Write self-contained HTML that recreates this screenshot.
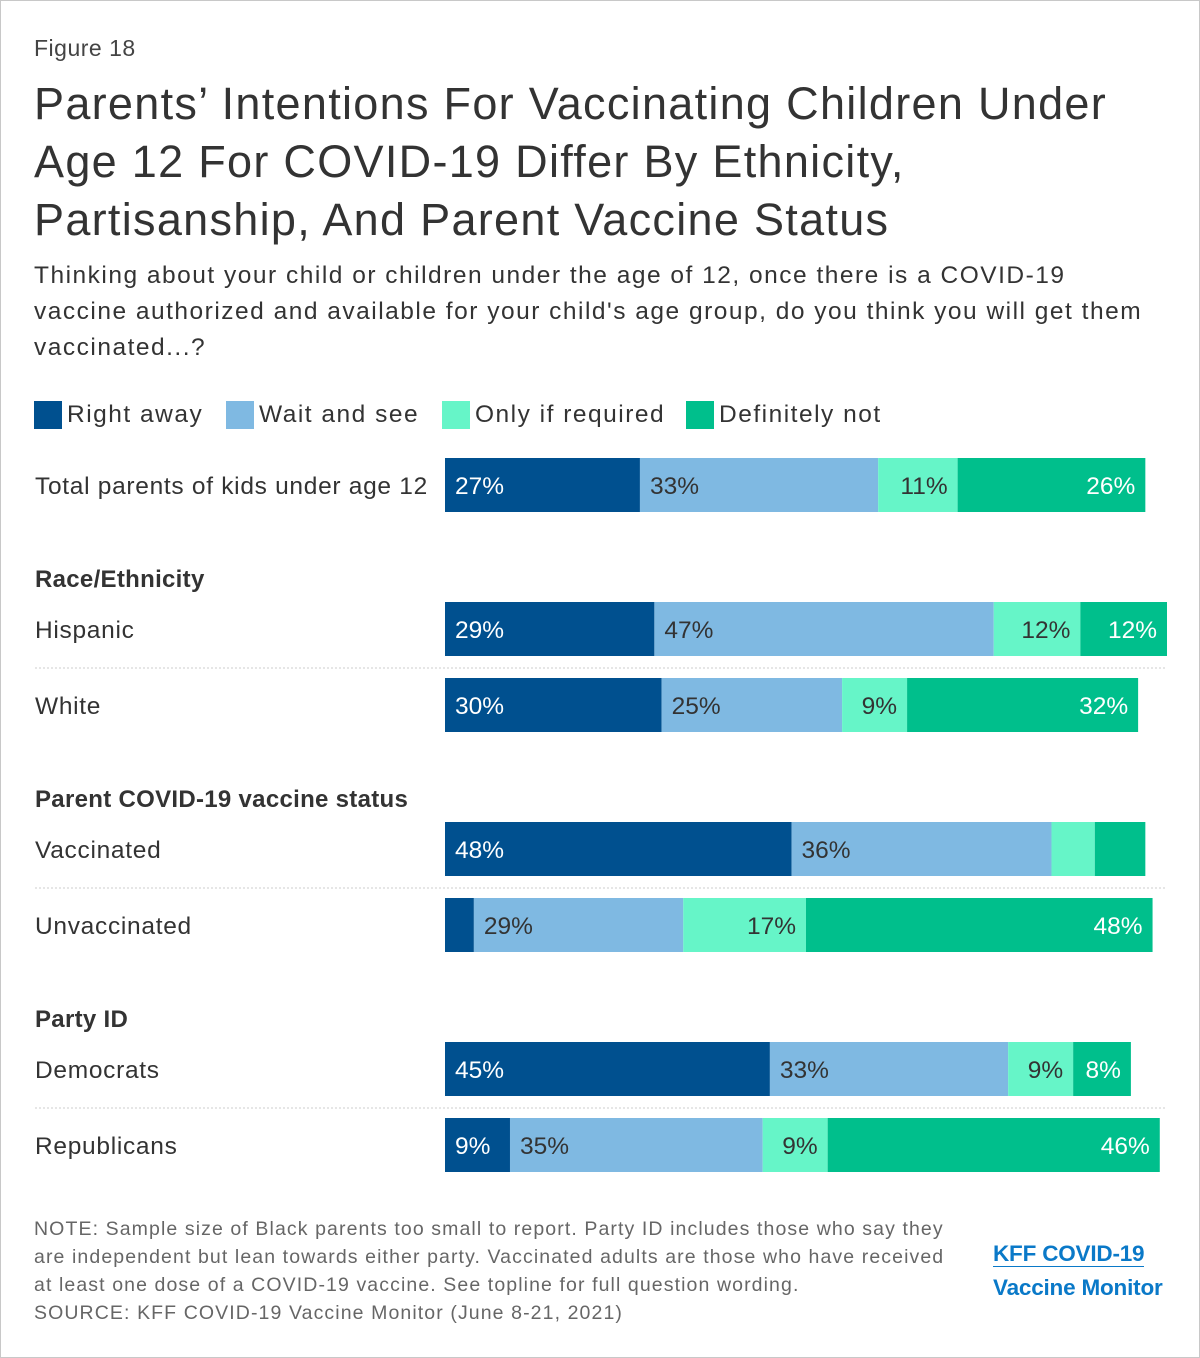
<!DOCTYPE html>
<html><head><meta charset="utf-8"><style>
body{margin:0;background:#fff;font-family:"Liberation Sans",sans-serif;}
#fig{position:absolute;left:0;top:0;width:1198px;height:1356px;border:1px solid #c8c8c8;}
.t{position:absolute;white-space:nowrap;color:#333;}
</style></head><body>
<div id="fig">
<div class="t" style="left:33px;top:34px;font-size:23px;color:#444;letter-spacing:0.5px">Figure 18</div>
<div class="t" style="left:33px;top:74px;font-size:45px;line-height:58px;color:#333;letter-spacing:1.3px">Parents’ Intentions For Vaccinating Children Under<br>Age 12 For COVID-19 Differ By Ethnicity,<br>Partisanship, And Parent Vaccine Status</div>
<div class="t" style="left:33px;top:257px;font-size:24.5px;line-height:36px;color:#333;letter-spacing:1.5px">Thinking about your child or children under the age of 12, once there is a COVID-19<br>vaccine authorized and available for your child's age group, do you think you will get them<br>vaccinated...?</div>
<div id="legend"></div>
<svg id="chart" width="1200" height="1200" style="position:absolute;left:0;top:0"></svg>
<div class="t" style="left:33px;top:1214px;font-size:19.5px;line-height:28px;color:#666;letter-spacing:1.1px">NOTE: Sample size of Black parents too small to report. Party ID includes those who say they<br>are independent but lean towards either party. Vaccinated adults are those who have received<br>at least one dose of a COVID-19 vaccine. See topline for full question wording.<br>SOURCE: KFF COVID-19 Vaccine Monitor (June 8-21, 2021)</div>
<div class="t" style="left:992px;top:1236px;font-size:22.5px;font-weight:bold;color:#0a79c8;line-height:34px;letter-spacing:-0.2px"><span style="border-bottom:1px solid #0a79c8">KFF COVID-19</span><br>Vaccine Monitor</div>
</div>
<script>
const seriesNames=["Right away","Wait and see","Only if required","Definitely not"];
const categories=["Total parents of kids under age 12","Hispanic","White","Vaccinated","Unvaccinated","Democrats","Republicans"];
const rightAway=[27,29,30,48,4,45,9];
const waitSee=[33,47,25,36,29,33,35];
const onlyReq=[11,12,9,6,17,9,9];
const defNot=[26,12,32,7,48,8,46];
const showLabel=[[1,1,1,1],[1,1,1,1],[1,1,1,1],[1,1,0,0],[0,1,1,1],[1,1,1,1],[1,1,1,1]];
const groups=[{name:"Race/Ethnicity",y:577},{name:"Parent COVID-19 vaccine status",y:797},{name:"Party ID",y:1017}];
const colors=["#00508f","#7fb9e2","#66f5c8","#00bf8c"];
const textCol=["#fff","#333","#333","#fff"];
const rowY=[485,629,705,849,925,1069,1145];
const x0=444,scale=7.22,bh=54;
const xs=v=>v*scale;
const NS="http://www.w3.org/2000/svg";
const svg=document.getElementById('chart');
function mk(tag,attrs){const e=document.createElementNS(NS,tag);for(const k in attrs)e.setAttribute(k,attrs[k]);svg.appendChild(e);return e;}
const lg=document.getElementById('legend');
const lx=[33,225,441,685];
seriesNames.forEach((n,i)=>{
  const s=document.createElement('div');
  
  
  s.style.cssText=`position:absolute;left:${lx[i]}px;top:400px;height:28px;white-space:nowrap;font-size:24.5px;color:#333;line-height:28px;letter-spacing:1.5px`;
  s.innerHTML=`<span style="display:inline-block;width:28px;height:28px;background:${colors[i]};vertical-align:top;margin-right:5px"></span>${n}`;
  lg.appendChild(s);
});
groups.forEach(g=>{
  const t=mk('text',{x:34,y:g.y+9,'font-size':24,'font-weight':'bold',fill:'#333','letter-spacing':0.3});
  
  
  t.textContent=g.name;
});
[667,887,1107].forEach(y=>{
  const l=mk('line',{x1:34,x2:1166,y1:y,y2:y,stroke:'#ccc','stroke-dasharray':'2,2'});
  
  
});
const series=[rightAway,waitSee,onlyReq,defNot];
categories.forEach((c,r)=>{
  const cy=rowY[r];
  const lab=mk('text',{x:34,y:cy+8,'font-size':24.5,fill:'#333','letter-spacing':0.7});
  
  
  lab.textContent=c;
  let x=x0;
  series.forEach((s,i)=>{
    const w=xs(s[r]);
    const rc=mk('rect',{x:x,y:cy-bh/2-1,width:w,height:bh,fill:colors[i]});
    
    
    if(showLabel[r][i]){
      const right=i>=2;
      const t=mk('text',{x:right?x+w-10:x+10,y:cy+8,'font-size':24.5,fill:textCol[i],'text-anchor':right?'end':'start'});
      
      
      t.textContent=s[r]+'%';
    }
    x+=w;
  });
});
</script>
</body></html>
